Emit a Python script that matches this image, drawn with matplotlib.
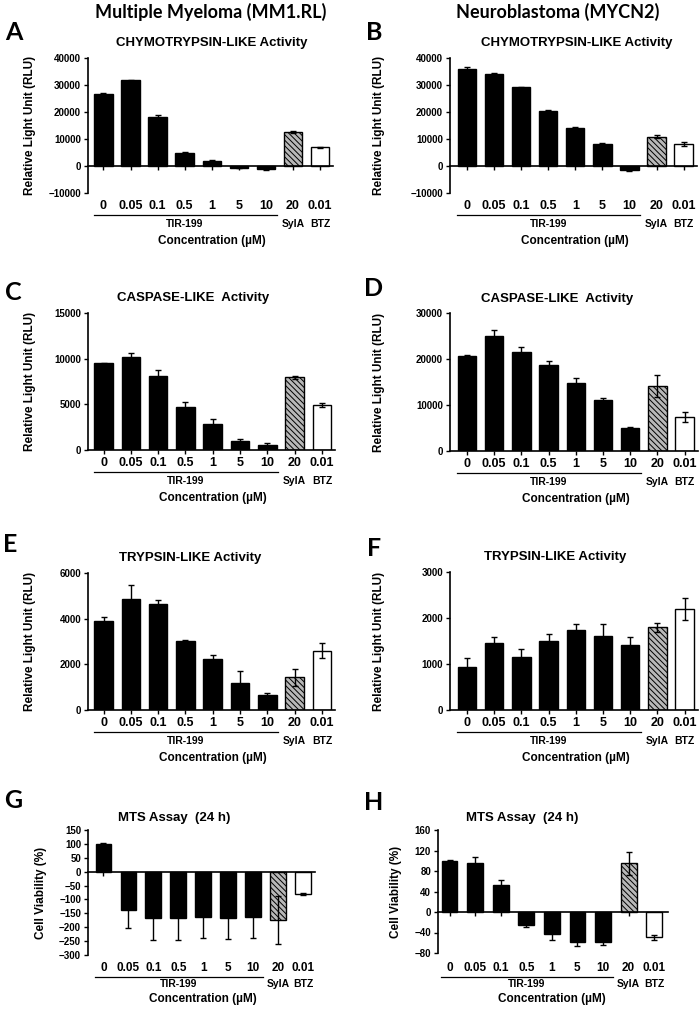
import numpy as np
import matplotlib.pyplot as plt
from matplotlib import transforms

plt.rcParams['font.family'] = ['Liberation Sans', 'DejaVu Sans']
plt.rcParams['font.weight'] = 'bold'
plt.rcParams['hatch.linewidth'] = 0.7

W, H = 700, 1011

conc_labels = ['0', '0.05', '0.1', '0.5', '1', '5', '10', '20', '0.01']
drug_labels = ['TIR-199', 'SylA', 'BTZ']

chymo_mm = [26800, 31700, 18000, 5000, 1800, -700, -1200, 12500, 7000]
chymo_mm_err = [400, 300, 900, 200, 600, 200, 300, 300, 200]
chymo_nb = [36000, 34200, 29200, 20500, 14200, 8000, -1500, 10800, 8200]
chymo_nb_err = [700, 300, 200, 300, 400, 500, 200, 500, 700]
casp_mm = [9500, 10200, 8100, 4700, 2900, 950, 500, 7950, 4900]
casp_mm_err = [50, 400, 650, 550, 450, 300, 300, 200, 200]
casp_nb = [20600, 25100, 21600, 18800, 14800, 11000, 4900, 14200, 7300]
casp_nb_err = [250, 1300, 1000, 700, 1000, 500, 400, 2400, 1100]
tryp_mm = [3890, 4870, 4640, 3020, 2230, 1170, 670, 1430, 2600]
tryp_mm_err = [180, 590, 190, 50, 160, 530, 60, 370, 330]
tryp_nb = [940, 1450, 1160, 1510, 1750, 1610, 1410, 1800, 2190]
tryp_nb_err = [180, 130, 170, 140, 120, 250, 180, 100, 240]
mts_mm = [100, -138, -168, -168, -163, -168, -163, -174, -80]
mts_mm_err = [2, 66, 78, 78, 75, 76, 74, 85, 3]
mts_nb = [100, 95, 53, -25, -43, -59, -59, 95, -49]
mts_nb_err = [1, 13, 9, 5, 11, 7, 5, 22, 5]


def px_axes(fig, left, top, right, bottom):
    return fig.add_axes([left / W, 1 - bottom / H, (right - left) / W, (bottom - top) / H])


def fig_text(fig, x, y, s, **kw):
    fig.text(x / W, 1 - y / H, s, ha='center', va='center', **kw)


def draw_panel(ax, vals, errs, ylim, ystep, ylabel, xlim, width=0.68,
               xfs=9, lab_x=-0.21, offs=(13, 22, 31, 48)):
    x = np.arange(len(vals))
    faces = ['black'] * 7 + ['#b8b8b8', 'white']
    bars = ax.bar(x, vals, width, color=faces, edgecolor='black', linewidth=1.0, zorder=2)
    bars[7].set_hatch('\\\\\\\\\\\\')
    ax.errorbar(x, vals, yerr=errs, fmt='none', ecolor='black', elinewidth=1,
                capsize=2, capthick=1, zorder=3)
    ax.set_xlim(*xlim)
    ax.set_ylim(*ylim)
    ax.set_yticks(np.arange(ylim[0], ylim[1] + ystep / 2, ystep))
    ax.tick_params(axis='y', labelsize=7, length=3, width=1, pad=2)
    ax.set_xticks(x)
    ax.tick_params(axis='x', length=3, width=1, labelbottom=False)
    for s in ['top', 'right']:
        ax.spines[s].set_visible(False)
    ax.spines['left'].set_linewidth(1.2)
    ax.spines['bottom'].set_linewidth(1.2)
    ax.spines['bottom'].set_position(('data', 0))
    ax.set_ylabel(ylabel, fontsize=8.5, fontweight='bold')
    ax.yaxis.set_label_coords(lab_x, 0.5)

    base = ax.get_xaxis_transform()
    fig = ax.figure
    t_tick = transforms.offset_copy(base, fig=fig, y=-offs[0], units='dots')
    t_line = transforms.offset_copy(base, fig=fig, y=-offs[1], units='dots')
    t_drug = transforms.offset_copy(base, fig=fig, y=-offs[2], units='dots')
    t_conc = transforms.offset_copy(base, fig=fig, y=-offs[3], units='dots')
    for xi, lab in zip(x, conc_labels):
        ax.text(xi, 0, lab, transform=t_tick, ha='center', va='center', fontsize=xfs)
    ax.plot([x[0] - 0.35, x[6] + 0.4], [0, 0], color='black', lw=0.9,
            transform=t_line, clip_on=False)
    ax.text(x[3], 0, drug_labels[0], transform=t_drug, ha='center', va='center', fontsize=7.5)
    ax.text(x[7], 0, drug_labels[1], transform=t_drug, ha='center', va='center', fontsize=7.5)
    ax.text(x[8], 0, drug_labels[2], transform=t_drug, ha='center', va='center', fontsize=7.5)
    ax.text(4.0, 0, 'Concentration (µM)', transform=t_conc, ha='center', va='center',
            fontsize=8.5)


fig = plt.figure(figsize=(7, 10.11), dpi=100)

rlu = 'Relative Light Unit (RLU)'
cv = 'Cell Viability (%)'
xl_left = (-0.57, 8.48)
xl_right = (-0.62, 8.49)

axA = px_axes(fig, 88, 58, 333, 193)
draw_panel(axA, chymo_mm, chymo_mm_err, (-10000, 40000), 10000, rlu, xl_left, lab_x=-0.212)
axB = px_axes(fig, 450, 58, 697, 193)
draw_panel(axB, chymo_nb, chymo_nb_err, (-10000, 40000), 10000, rlu, xl_right, lab_x=-0.263)
axC = px_axes(fig, 88, 313, 335, 450)
draw_panel(axC, casp_mm, casp_mm_err, (0, 15000), 5000, rlu, xl_left, lab_x=-0.21)
axD = px_axes(fig, 450, 313, 698, 451)
draw_panel(axD, casp_nb, casp_nb_err, (0, 30000), 10000, rlu, xl_right, lab_x=-0.262)
axE = px_axes(fig, 88, 573, 335, 710)
draw_panel(axE, tryp_mm, tryp_mm_err, (0, 6000), 2000, rlu, xl_left, lab_x=-0.21)
axF = px_axes(fig, 450, 572, 698, 710)
draw_panel(axF, tryp_nb, tryp_nb_err, (0, 3000), 1000, rlu, xl_right, lab_x=-0.262)
axG = px_axes(fig, 88, 830, 315, 955)
draw_panel(axG, mts_mm, mts_mm_err, (-300, 150), 50, cv, (-0.62, 8.48), width=0.63,
           xfs=8.5, lab_x=-0.18, offs=(13, 22, 29, 44))
axH = px_axes(fig, 438, 830, 668, 953)
draw_panel(axH, mts_nb, mts_nb_err, (-80, 160), 40, cv, (-0.45, 8.54), width=0.62,
           xfs=8.5, lab_x=-0.157, offs=(15, 24, 31, 46))

# column headings
fig_text(fig, 211, 12, 'Multiple Myeloma (MM1.RL)', fontsize=13, fontweight='bold', family='Lato')
fig_text(fig, 558, 12, 'Neuroblastoma (MYCN2)', fontsize=13, fontweight='bold', family='Lato')

# panel letters
letters = {'A': (14, 33), 'B': (374, 33), 'C': (13, 292), 'D': (374, 288),
           'E': (10, 545), 'F': (374, 548), 'G': (13, 800), 'H': (374, 803)}
for k, (lx, ly) in letters.items():
    fig_text(fig, lx, ly, k, fontsize=18, fontweight='bold', family='Lato')

# panel titles
titles = [('CHYMOTRYPSIN-LIKE Activity', 212, 43), ('CHYMOTRYPSIN-LIKE Activity', 577, 43),
          ('CASPASE-LIKE  Activity', 193, 298), ('CASPASE-LIKE  Activity', 557, 299),
          ('TRYPSIN-LIKE Activity', 190, 558), ('TRYPSIN-LIKE Activity', 555, 557),
          ('MTS Assay  (24 h)', 174, 818), ('MTS Assay  (24 h)', 522, 818)]
for txt, tx, ty in titles:
    fig_text(fig, tx, ty, txt, fontsize=9.5, fontweight='bold')

fig.savefig('out.png', dpi=100)
